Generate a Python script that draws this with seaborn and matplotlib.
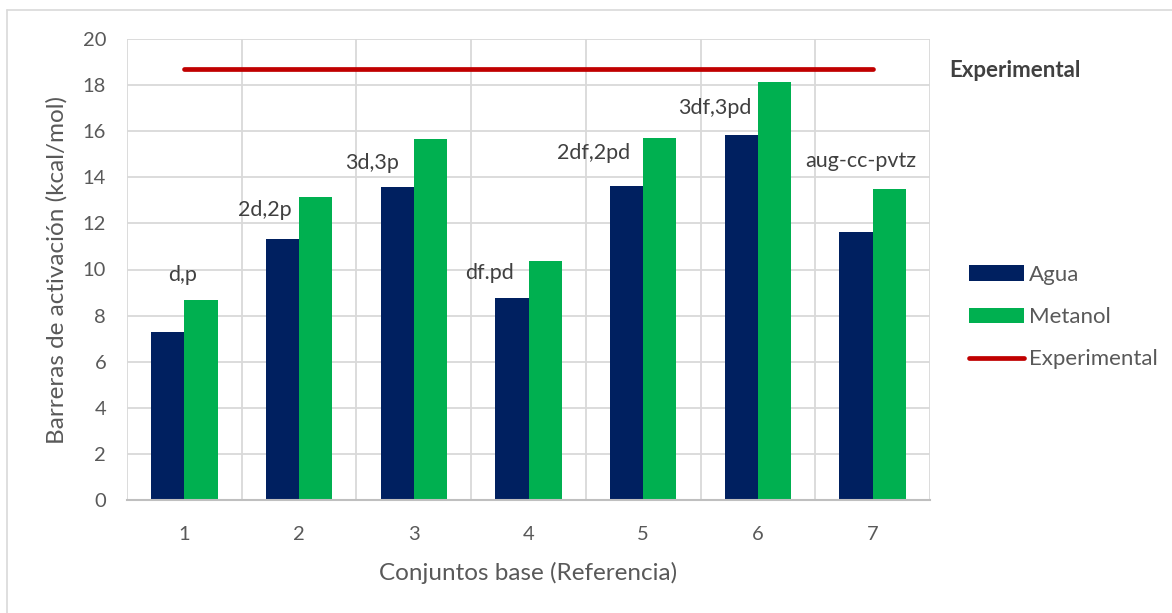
import numpy as np
import pandas as pd
import matplotlib
matplotlib.use("Agg")
import matplotlib.pyplot as plt
from matplotlib.lines import Line2D
import seaborn as sns

# --- data -------------------------------------------------------------
categorias = ["1", "2", "3", "4", "5", "6", "7"]
agua = [7.27, 11.34, 13.59, 8.75, 13.62, 15.84, 11.64]
metanol = [8.66, 13.16, 15.66, 10.36, 15.70, 18.13, 13.49]
experimental = [18.7, 18.7, 18.7, 18.7, 18.7, 18.7, 18.7]
conjuntos = ["d,p", "2d,2p", "3d,3p", "df.pd", "2df,2pd", "3df,3pd", "aug-cc-pvtz"]

# placement of the basis-set labels (x offset from category centre, y in data units)
etiqueta_dx = [-0.02, -0.30, -0.36, -0.34, -0.43, -0.38, -0.10]
etiqueta_y = [9.75, 12.6, 14.6, 9.85, 15.05, 17.0, 14.7]

# --- style ------------------------------------------------------------
sns.set_theme(style="white")
plt.rcParams["font.family"] = ["Lato", "DejaVu Sans"]
TXT = "#595959"
GRID = "#D9D9D9"
C_AGUA = "#002060"
C_MET = "#00B050"
C_EXP = "#C00000"

df = pd.DataFrame({
    "Conjunto": categorias * 2,
    "Valor": agua + metanol,
    "Serie": ["Agua"] * len(agua) + ["Metanol"] * len(metanol),
})

fig = plt.figure(figsize=(11.72, 6.13), dpi=100)
ax = fig.add_axes([127 / 1172, 1 - 500 / 613, (930 - 127) / 1172, (500 - 39) / 613])

sns.barplot(data=df, x="Conjunto", y="Valor", hue="Serie",
            palette={"Agua": C_AGUA, "Metanol": C_MET},
            width=0.58, gap=0, saturation=1, linewidth=0,
            errorbar=None, ax=ax, zorder=3)

x_pos = np.arange(len(categorias))
sns.lineplot(x=x_pos, y=experimental, color=C_EXP, linewidth=3.4,
             label="Experimental", ax=ax, zorder=4,
             solid_capstyle="round")

# axes limits, ticks, grid
ax.set_xlim(-0.5, len(categorias) - 0.5)
ax.set_ylim(0, 20)
ax.set_yticks(np.arange(0, 21, 2))
ax.set_xticks(x_pos)
ax.set_xticklabels(categorias)
ax.set_xticks(np.arange(-0.5, len(categorias), 1.0), minor=True)
ax.grid(True, axis="y", which="major", color=GRID, linewidth=1.3, zorder=0)
ax.grid(True, axis="x", which="minor", color=GRID, linewidth=1.3, zorder=0)
ax.grid(False, axis="x", which="major")
ax.set_axisbelow(True)
ax.tick_params(axis="both", which="both", length=0, labelsize=14.5, colors=TXT)
ax.tick_params(axis="x", pad=19)
ax.tick_params(axis="y", pad=15)

for side in ["top", "right", "left"]:
    ax.spines[side].set_visible(False)
ax.spines["bottom"].set_color("#BFBFBF")
ax.spines["bottom"].set_linewidth(1.5)
ax.spines["bottom"].set_zorder(5)

ax.set_xlabel("Conjuntos base (Referencia)", fontsize=17.5, color=TXT)
ax.set_ylabel("Barreras de activación (kcal/mol)", fontsize=17.5, color=TXT)
ax.xaxis.set_label_coords(0.5, -0.135)
ax.yaxis.set_label_coords(-0.074, 0.5)

# basis-set labels above each group
for i, (txt, dx, yy) in enumerate(zip(conjuntos, etiqueta_dx, etiqueta_y)):
    ax.text(i + dx, yy, txt, ha="center", va="center", fontsize=15.5,
            color="#404040", zorder=6)

# label for the experimental line
ax.annotate("Experimental", xy=(x_pos[-1], experimental[-1]), xytext=(55, -1),
            textcoords="offset points", ha="left", va="center",
            fontsize=16, fontweight="bold", color="#404040", annotation_clip=False)

# legend on the right
ax.get_legend().remove()
handles, labels = ax.get_legend_handles_labels()
fig.legend(handles, labels, loc="upper left",
           bbox_to_anchor=(960 / 1172, 1 - 256 / 613),
           frameon=False, fontsize=16, labelcolor=TXT,
           handlelength=2.5, handleheight=0.7, handletextpad=0.2,
           labelspacing=1.0, borderaxespad=0)

# outer chart frame (top and left edges)
fig.add_artist(Line2D([7 / 1172, 7 / 1172], [0, 1 - 10 / 613],
                      transform=fig.transFigure, color=GRID, linewidth=1.2))
fig.add_artist(Line2D([7 / 1172, 1], [1 - 10 / 613, 1 - 10 / 613],
                      transform=fig.transFigure, color=GRID, linewidth=1.2))

fig.savefig("out.png", dpi=100, facecolor="white")
